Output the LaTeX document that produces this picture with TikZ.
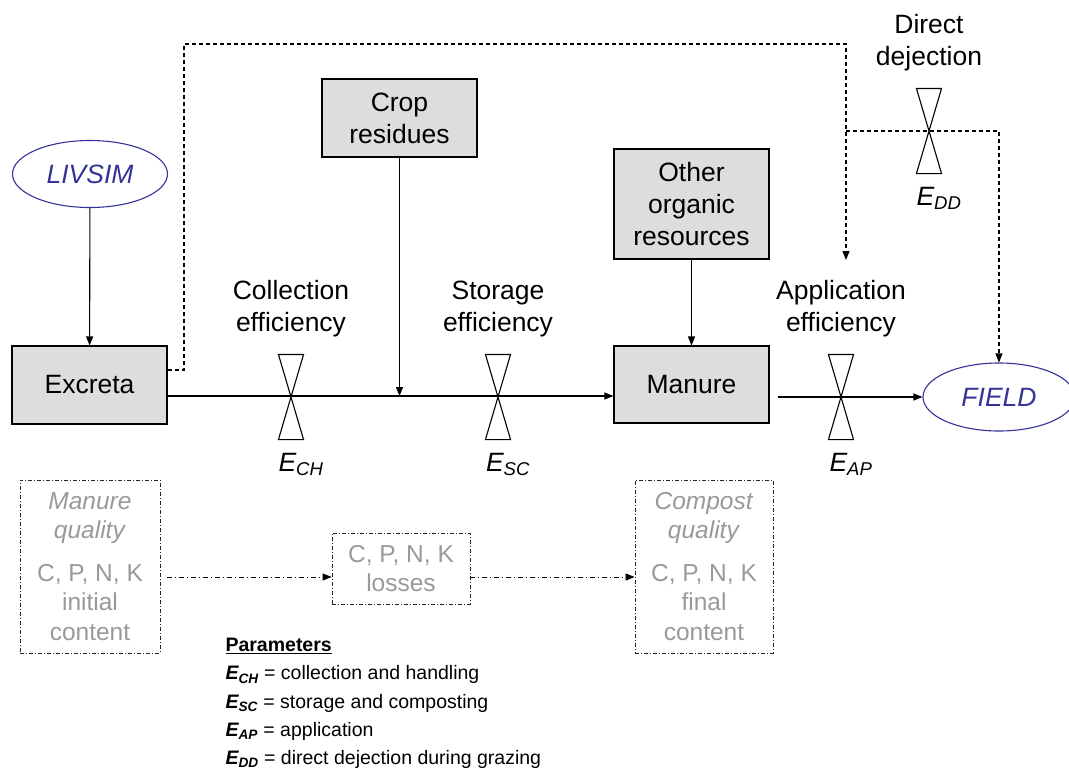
\documentclass[tikz,border=0pt]{standalone}
\usepackage{fontspec}
\setmainfont{Liberation Sans}
\usepackage{xcolor}
\usetikzlibrary{positioning,arrows.meta,shapes.geometric}
\definecolor{boxgray}{HTML}{DDDDDD}
\definecolor{modelblue}{HTML}{333399}
\definecolor{qualgray}{HTML}{999999}

\begin{document}
\begin{tikzpicture}[
  x=1pt, y=-1pt,
  line width=1.1pt,
  txt/.style={font=\fontsize{26.5}{32}\selectfont, align=center, inner sep=0pt},
  box/.style={txt, draw, fill=boxgray, minimum width=155pt},
  model/.style={txt, ellipse, draw=modelblue, text=modelblue, font=\fontsize{26.5}{32}\selectfont\itshape},
  valve/.style={minimum width=24pt, minimum height=84pt, inner sep=0pt},
  elab/.style={txt, font=\fontsize{26.5}{32}\selectfont\itshape},
  qual/.style={draw=black!85, line width=0.8pt, dash pattern=on 4pt off 2pt on 1pt off 2pt,
    text=qualgray, align=center, font=\fontsize{24.5}{29.5}\selectfont, inner sep=0pt},
  arr/.style={-{Triangle[length=9pt,width=7pt]}},
  dsh/.style={arr, dash pattern=on 4pt off 3pt},
  dda/.style={arr, line width=0.8pt, dash pattern=on 5pt off 3pt on 1pt off 3pt}]
\useasboundingbox (0,0) rectangle (1069,771);

% main flow
\node[model, minimum width=155pt, minimum height=67pt] (livsim) at (90,174) {LIVSIM};
\node[box, minimum height=78pt] (excreta) at (89.5,385) {Excreta};
\node[box, minimum height=78pt] (crop) at (399.5,118) {Crop\\residues};
\node[box, minimum height=110pt] (other) at (691.5,204) {Other\\organic\\resources};
\node[box, minimum height=77pt] (manure) at (691.5,384.5) {Manure};
\node[model, minimum width=152pt, minimum height=68pt] (field) at (999,397) {FIELD};

\node[valve] (vch) at (291,397) {};
\node[valve] (vsc) at (498,397) {};
\node[valve] (vap) at (841,397) {};
\node[valve] (vdd) at (929,131) {};

\node[txt, above=17pt of vch] (tch) {Collection\\efficiency};
\node[txt, above=17pt of vsc] (tsc) {Storage\\efficiency};
\node[txt, above=17pt of vap] (tap) {Application\\efficiency};
\node[txt, above=17pt of vdd] (tdd) {Direct\\dejection};
\node[elab, below=13pt of vch, xshift=10pt] (ech) {E\textsubscript{CH}};
\node[elab, below=13pt of vsc, xshift=10pt] (esc) {E\textsubscript{SC}};
\node[elab, below=13pt of vap, xshift=10pt] (eap) {E\textsubscript{AP}};
\node[elab, below=13pt of vdd, xshift=10pt] (edd) {E\textsubscript{DD}};

\coordinate (join) at (399.5,396);
\coordinate (bend) at (184,44);
\coordinate (apin) at (846,260);
\coordinate (ddsplit) at (846,131);
\path (manure.east |- field.west) ++(8pt,0) coordinate (apstart);

\draw[arr] (livsim) -- (excreta);
\draw[arr] (crop) -- (join);
\draw[arr] (other) -- (manure);
\draw[arr] ([yshift=-11pt]excreta.east) -- ([yshift=-11pt]excreta.east -| manure.west);
\draw[arr] (apstart) -- (field.west);
\draw[dsh] ([yshift=15pt]excreta.east) -| (bend) -| (apin);
\draw[dsh] (ddsplit) -- (vdd.center) -| (field.north);

\foreach \v in {vch,vsc,vap,vdd}
  \draw[fill=white] (\v.north west) -- (\v.north east) -- (\v.south west) -- (\v.south east) -- cycle;

% quality boxes
\node[qual, minimum width=140pt, minimum height=173pt] (mq) at (90,566.5)
  {\textit{Manure}\\\textit{quality}\\[13pt]C, P, N, K\\initial\\content};
\node[qual, minimum width=138pt, minimum height=71pt] (loss) at (401,568.5)
  {C, P, N, K\\losses};
\node[qual, minimum width=138pt, minimum height=173pt] (cq) at (704,566.5)
  {\textit{Compost}\\\textit{quality}\\[13pt]C, P, N, K\\final\\content};
\coordinate (qline) at ([yshift=-10.5pt]mq.east);
\draw[dda] ([xshift=7pt]qline) -- (qline -| loss.west);
\draw[dda] (qline -| loss.east) -- (qline -| cq.west);

% legend
\node[anchor=west, align=left, inner sep=0pt, font=\fontsize{19.5}{28.25}\selectfont] (params) at (225,703.5)
  {\underline{\textbf{Parameters}}\\
   \textbf{\textit{E\textsubscript{CH}}} = collection and handling\\
   \textbf{\textit{E\textsubscript{SC}}} = storage and composting\\
   \textbf{\textit{E\textsubscript{AP}}} = application\\
   \textbf{\textit{E\textsubscript{DD}}} = direct dejection during grazing};
\end{tikzpicture}
\end{document}
